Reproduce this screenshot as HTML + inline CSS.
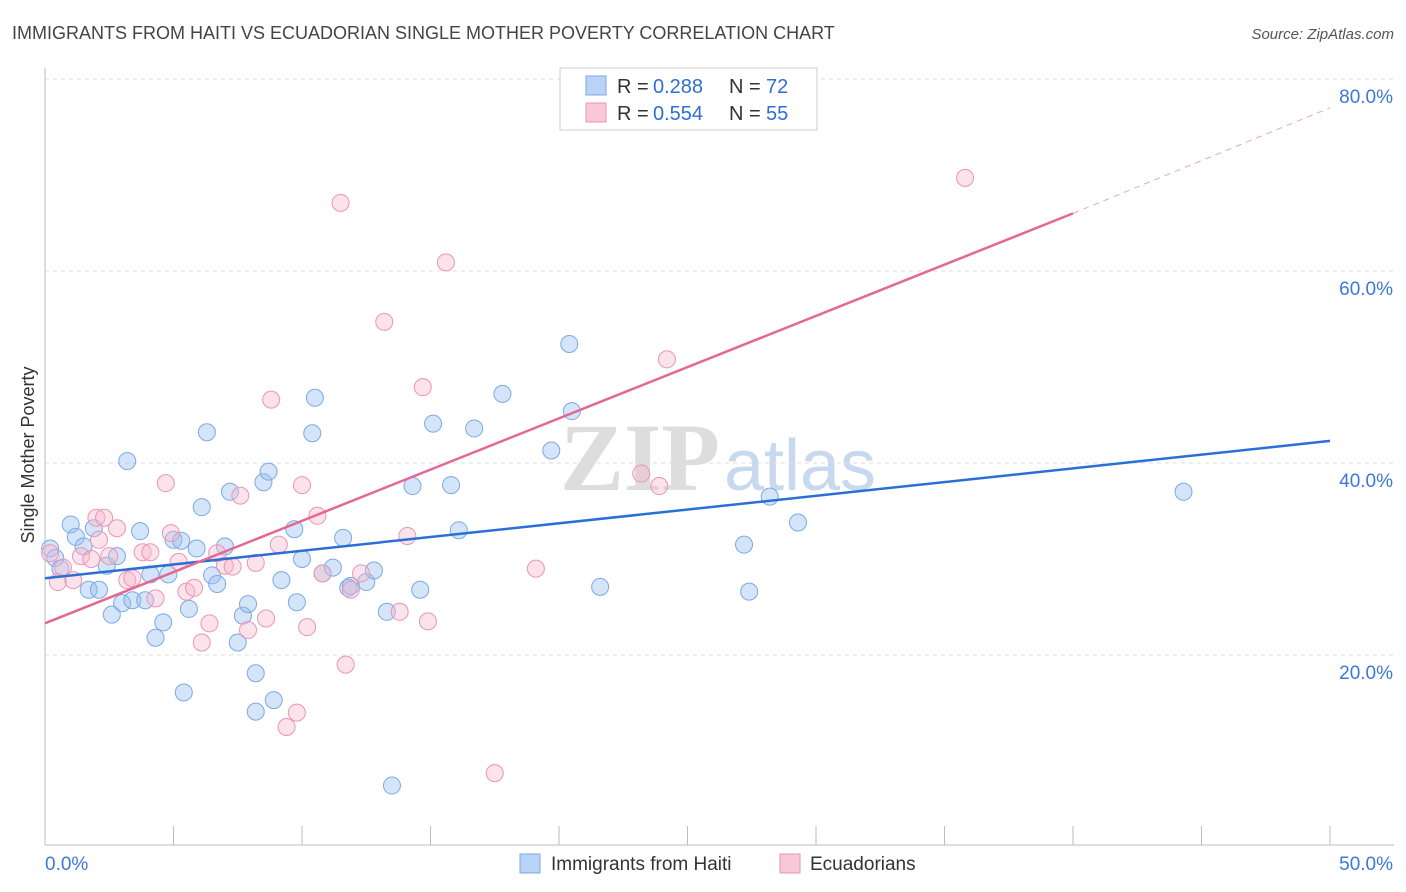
<!DOCTYPE html>
<html><head><meta charset="utf-8"><style>
body{margin:0;background:#fff;font-family:"Liberation Sans",sans-serif;}
#c{position:relative;width:1406px;height:892px;}
</style></head><body>
<div id="c">
<svg id="s" width="1406" height="892" xmlns="http://www.w3.org/2000/svg" style="position:absolute;left:0;top:0">
<text x="12" y="39" font-size="18" fill="#444">IMMIGRANTS FROM HAITI VS ECUADORIAN SINGLE MOTHER POVERTY CORRELATION CHART</text>
<text x="1394" y="39" font-size="15" fill="#555" font-style="italic" text-anchor="end">Source: ZipAtlas.com</text>
<text transform="translate(34,455) rotate(-90)" font-size="18" fill="#333" text-anchor="middle">Single Mother Poverty</text>
<text x="640" y="490" font-size="96" fill="#ddd" font-family="Liberation Serif" font-weight="bold" text-anchor="middle">ZIP</text>
<text x="800" y="490" font-size="72" fill="#c8d8ee" text-anchor="middle">atlas</text>
<g id="grid"></g><g id="pts"></g><g id="lines"></g>
<g>
<rect x="560" y="68" width="257" height="62" fill="#fff" stroke="#ccc"/>
<rect x="586" y="76" width="20" height="19" fill="#b8d3f5" stroke="#7aa9e6"/>
<rect x="586" y="103" width="20" height="19" fill="#f9c8d8" stroke="#eb95b2"/>
<text x="617" y="93" font-size="20" fill="#333">R =</text>
<text x="653" y="93" font-size="20" fill="#2f6fd1">0.288</text>
<text x="729" y="93" font-size="20" fill="#333">N =</text>
<text x="766" y="93" font-size="20" fill="#2f6fd1">72</text>
<text x="617" y="120" font-size="20" fill="#333">R =</text>
<text x="653" y="120" font-size="20" fill="#2f6fd1">0.554</text>
<text x="729" y="120" font-size="20" fill="#333">N =</text>
<text x="766" y="120" font-size="20" fill="#2f6fd1">55</text>
</g>
<g>
<rect x="520" y="854" width="20" height="19" fill="#b8d3f5" stroke="#7aa9e6"/>
<text x="551" y="870" font-size="19" fill="#333">Immigrants from Haiti</text>
<rect x="780" y="854" width="20" height="19" fill="#f9c8d8" stroke="#eb95b2"/>
<text x="810" y="870" font-size="19" fill="#333">Ecuadorians</text>
</g>
</svg>
</div>
<script>
const blueX=[0.2,0.4,0.6,1.0,1.2,1.5,1.7,1.9,2.1,2.4,2.6,2.8,3.0,3.2,3.4,3.7,3.9,4.1,4.3,4.6,4.8,5.0,5.3,5.4,5.6,5.9,6.1,6.3,6.5,6.7,7.0,7.2,7.5,7.7,7.9,8.2,8.2,8.5,8.7,8.9,9.2,9.7,9.8,10.0,10.4,10.5,10.8,11.2,11.6,11.8,11.9,12.5,12.8,13.3,13.5,14.3,14.6,15.1,15.8,16.1,16.7,17.8,19.7,20.4,20.5,21.6,27.2,27.4,28.2,29.3,44.3];
const blueY=[31.1,30.1,29.0,33.6,32.3,31.3,26.8,33.2,26.8,29.3,24.2,30.3,25.4,40.2,25.7,32.9,25.7,28.4,21.8,23.4,28.4,32.0,31.9,16.1,24.8,31.1,35.4,43.2,28.3,27.4,31.3,37.0,21.3,24.1,25.3,14.1,18.1,38.0,39.1,15.3,27.8,33.1,25.5,30.0,43.1,46.8,28.5,29.1,32.2,27.0,27.2,27.6,28.8,24.5,6.4,37.6,26.8,44.1,37.7,33.0,43.6,47.2,41.3,52.4,45.4,27.1,31.5,26.6,36.5,33.8,37.0];
const pinkX=[0.2,0.5,0.7,1.1,1.4,1.8,2.0,2.3,2.5,2.8,3.2,3.4,3.8,4.1,4.3,4.7,4.9,5.2,5.5,5.8,6.1,6.4,6.7,7.0,7.3,7.6,7.9,8.2,8.6,8.8,9.1,9.4,9.8,10.0,10.2,10.6,10.8,11.5,11.7,11.9,12.3,13.2,13.8,14.1,14.7,14.9,15.6,17.5,19.1,23.2,23.9,24.2,26.7,35.8,2.1];
const pinkY=[30.6,27.6,29.1,27.8,30.3,30.0,34.3,34.3,30.3,33.2,27.8,28.0,30.7,30.7,25.9,37.9,32.7,29.7,26.6,27.0,21.3,23.3,30.6,29.3,29.2,36.6,22.6,29.6,23.8,46.6,31.5,12.5,14.0,37.7,22.9,34.5,28.5,67.1,19.0,26.8,28.5,54.7,24.5,32.4,47.9,23.5,60.9,7.7,29.0,38.9,37.6,50.8,79.5,69.7,32.0];
const yTicks=[20,40,60,80];
const xTickLabels=["0.0%","50.0%"];
const blueTrend=[28.0,42.3];
const pinkTrend=[23.3,66.0,77.0];
const NS="http://www.w3.org/2000/svg";
const sx=v=>45+v*25.7, sy=v=>847-v*9.6;
function mk(t,a,p){const e=document.createElementNS(NS,t);for(const k in a)e.setAttribute(k,a[k]);p.appendChild(e);return e;}
const g=document.getElementById('grid');
yTicks.forEach(t=>{
 const l=mk('line',{x1:45,x2:1394,y1:sy(t),y2:sy(t),stroke:'#ddd','stroke-dasharray':'4,4'},g);
 
 
 const tx=mk('text',{x:1393,y:sy(t)+24,'font-size':19,fill:'#3b78d8','text-anchor':'end'},g);
 tx.textContent=t.toFixed(1)+'%';
 
 
});
mk('line',{x1:45,x2:45,y1:68,y2:845,stroke:'#bbb'},g);
mk('line',{x1:45,x2:1394,y1:845,y2:845,stroke:'#bbb'},g);
for(let i=0;i<=10;i++){mk('line',{x1:sx(i*5),x2:sx(i*5),y1:826,y2:845,stroke:'#bbb'},g);}
[[0,'start'],[50,'end']].forEach((d,i)=>{
 const tx=mk('text',{x:i?1393:45,y:870,'font-size':19,fill:'#3b78d8','text-anchor':d[1]},g);
 tx.textContent=xTickLabels[i];
 
 
});
const p=document.getElementById('pts');
blueX.forEach((x,i)=>{
 const c=mk('circle',{cx:sx(x),cy:sy(blueY[i]),r:8.5,fill:'rgba(150,190,240,0.4)',stroke:'#7aa9e6','stroke-width':1},p);
 
 
});
pinkX.forEach((x,i)=>{
 const c=mk('circle',{cx:sx(x),cy:sy(pinkY[i]),r:8.5,fill:'rgba(248,185,205,0.4)',stroke:'#eb95b2','stroke-width':1},p);
 
 
});
const L=document.getElementById('lines');
const b=mk('line',{x1:sx(0),y1:sy(blueTrend[0]),x2:sx(50),y2:sy(blueTrend[1]),stroke:'#2a6fd6','stroke-width':2.5},L);


const pk=mk('line',{x1:sx(0),y1:sy(pinkTrend[0]),x2:sx(40),y2:sy(pinkTrend[1]),stroke:'#e46893','stroke-width':2.5},L);


const pd=mk('line',{x1:sx(40),y1:sy(pinkTrend[1]),x2:sx(50),y2:sy(pinkTrend[2]),stroke:'#eba5bd','stroke-width':1,'stroke-dasharray':'6,5'},L);


</script>
</body></html>
